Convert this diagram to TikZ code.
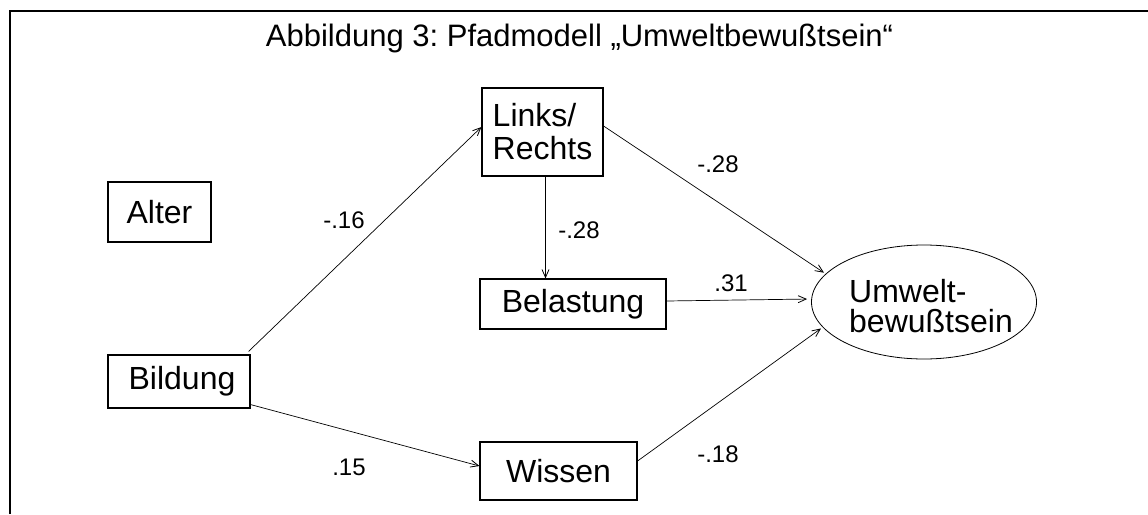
\documentclass[tikz,border=0pt]{standalone}
\usepackage{fontspec}
\setmainfont{Liberation Sans}
\usetikzlibrary{arrows.meta,shapes.geometric}
\frenchspacing

\tikzset{
  var/.style={draw, line width=1.1pt, inner sep=0pt, font=\fontsize{32}{33}\selectfont},
  pathline/.style={line width=0.7pt, -{Straight Barb[length=8pt,width=7pt,line width=0.8pt]}},
  coef/.style={anchor=base, inner sep=0pt, font=\fontsize{24}{26}\selectfont},
}

\begin{document}
\begin{tikzpicture}[x=1pt, y=-1pt]
  \useasboundingbox (0,0) rectangle (1148,514);
  % open frame: top and left edge
  \draw[line width=2pt] (10,514) -- (10,11) -- (1148,11);

  \node[anchor=base, inner sep=0pt, font=\fontsize{31}{33}\selectfont] (title) at (579.5,46.5)
    {Abbildung 3: Pfadmodell „Umweltbewußtsein“};

  % variables
  \node[var, minimum width=103pt, minimum height=60pt] (alter) at (159.5,212) {Alter};
  \node[var, minimum width=142pt, minimum height=53pt] (bild) at (179,381.5) {\hspace*{6pt}Bildung};
  \node[var, minimum width=121pt, minimum height=88pt, align=left] (links) at (542.5,132) {Links/\\Rechts};
  \node[var, minimum width=186pt, minimum height=50pt] (belast) at (573,304) {Belastung};
  \node[var, minimum width=157pt, minimum height=58pt] (wiss) at (558.5,471) {Wissen};
  \node[ellipse, draw, line width=0.8pt, minimum width=225pt, minimum height=114pt, inner sep=0pt] (umw) at (924,302) {};
  \node[inner sep=0pt, align=left, font=\fontsize{32}{30}\selectfont] (umwtext)
    at ([xshift=7pt,yshift=-4pt]umw.center) {Umwelt-\\bewußtsein};

  % paths
  \draw[pathline] ([xshift=-2pt,yshift=3pt]bild.north east) -- ([yshift=5pt]links.west);
  \draw[pathline] ([yshift=4pt]bild.south east) -- ([yshift=5pt]wiss.west);
  \draw[pathline] ([xshift=3pt]links.south) -- ([xshift=3pt]links.south |- belast.north);
  \draw[pathline, shorten >=2pt] ([yshift=6pt]links.east) -- (umw.164);
  \draw[pathline, shorten >=4pt] ([yshift=3pt]belast.east) -- ([yshift=3pt]umw.west);
  \draw[pathline, shorten >=2pt] ([yshift=10pt]wiss.east) -- (umw.194);

  % path coefficients
  \node[coef] (c1) at (344,228) {-.16};
  \node[coef] (c2) at (718,172) {-.28};
  \node[coef] (c3) at (579,238) {-.28};
  \node[coef] (c4) at (731,291) {.31};
  \node[coef] (c5) at (718,462) {-.18};
  \node[coef] (c6) at (349,475) {.15};
\end{tikzpicture}
\end{document}
